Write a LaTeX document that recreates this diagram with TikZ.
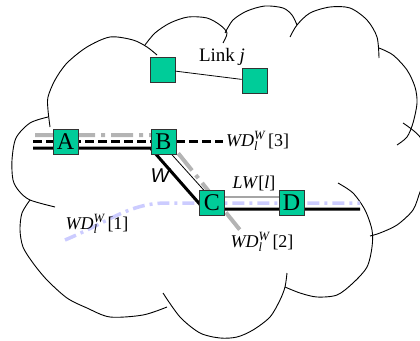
\documentclass[tikz,border=0pt]{standalone}
\usepackage{fontspec}
\setmainfont{Liberation Serif}
\setsansfont{Liberation Sans}
\usepackage{xcolor}
\usetikzlibrary{calc}

\definecolor{boxgreen}{RGB}{0,204,153}
\definecolor{wdgray}{RGB}{180,180,180}
\definecolor{wdblue}{RGB}{204,204,255}

\newcommand{\wdl}[1]{$\mathit{WD}_{\mathit{l}}^{\mathit{W}}$\,[#1]}

\begin{document}
\begin{tikzpicture}[x=1pt, y=-1pt,
        sq/.style={rectangle, draw=black!80, line width=0.8pt, fill=boxgreen, minimum size=25pt, inner sep=0pt, font=\fontsize{24}{24}\selectfont},
        lab/.style={inner sep=0pt, font=\fontsize{18}{18}\selectfont},
        cloudline/.style={line width=0.9pt}]
    \useasboundingbox (0,0) rectangle (420,340);
    \clip (0,0) rectangle (420,340);

    % cloud
    \draw[cloudline] plot[smooth] coordinates {(55,207) (30,200) (19,191) (13,180) (12,160) (16,138) (30,123) (48,117)};
    \draw[cloudline] plot[smooth] coordinates {(50,127) (48,110) (48,97) (55,80) (67,63) (87,47) (110,37) (133,40) (147,47) (157,55)};
    \draw[cloudline] plot[smooth] coordinates {(145,45) (155,33) (170,23) (188,17) (207,18) (220,25) (227,33) (223,43)};
    \draw[cloudline] plot[smooth] coordinates {(225,33) (233,20) (247,11) (265,6) (283,8) (292,15) (297,25)};
    \draw[cloudline] plot[smooth] coordinates {(290,37) (297,25) (310,13) (330,7) (350,8) (367,20) (377,37) (379,58)};
    \draw[cloudline] plot[smooth] coordinates {(379,48) (393,55) (407,70) (415,87) (417,103) (413,123) (407,137) (397,145)};
    \draw[cloudline] plot[smooth] coordinates {(403,123) (420,137) (428,160) (426,178) (420,192) (413,210) (397,225) (380,233) (370,236)};
    \draw[cloudline] plot[smooth] coordinates {(338,183) (353,193) (365,210) (372,230) (372,247) (367,267) (353,283) (337,295) (317,297) (300,293) (285,287)};
    \draw[cloudline] plot[smooth] coordinates {(287,273) (285,287) (280,300) (270,317) (253,330) (237,337) (220,338) (200,333) (180,317) (163,293)};
    \draw[cloudline] plot[smooth] coordinates {(167,307) (143,315) (110,317) (87,308) (67,298) (47,280) (33,263) (23,247) (20,230) (22,213) (30,200)};

    % routers
    \node[sq] (t1) at (162.5,69.5) {};
    \node[sq] (t2) at (254.5,81) {};
    \node[sq] (A) at (65.5,142) {};
    \node[sq] (B) at (163.5,142) {};
    \node[sq] (C) at (212,203) {};
    \node[sq] (D) at (291.5,203) {};

    \coordinate (wd3s) at (33,141);
    \coordinate (wd3e) at (223,141);
    \coordinate (wd2s) at (35,135);
    \coordinate (wd2e) at (240,230);
    \coordinate (wd1s) at (65,240);
    \coordinate (wd1e) at (360,203);
    \coordinate (ws) at (33,148);
    \coordinate (we) at (360,209);

    % paths
    \draw[line width=0.8pt] (t1) to (t2);
    \draw[wdblue, line width=3.5pt, dash pattern=on 12pt off 5pt on 3pt off 5pt]
        (wd1s) .. controls (110,221) and (130,203) .. ($(C)+(-45,0)$) -- (wd1e);
    \draw[wdgray, line width=4pt, dash pattern=on 22pt off 6pt on 4pt off 6pt]
        (wd2s) -- ($(B)+(0,-7)$) -- (wd2e);
    \draw[line width=3pt] (ws) -- ($(B)+(-13,6)$) -- ($(C)+(-8,6)$) -- (we);
    \draw[line width=0.8pt] ($(B)+(-3,0)$) -- ($(C)+(-2,-6)$) -- ($(D)+(0,-6)$);
    \draw[line width=3pt, dash pattern=on 9pt off 4pt] (wd3s) -- (wd3e);

    % redraw routers on top
    \node[sq] at (A) {A};
    \node[sq] at (B) {B};
    \node[sq] at (C) {C};
    \node[sq] at (D) {D};

    % labels
    \node[lab, font=\fontsize{19}{19}\selectfont] (lj) at (222,57) {Link \textit{j}};
    \node[lab, anchor=west] (l3) at (226,141) {\wdl{3}};
    \node[lab] (l2) at (262,242) {\wdl{2}};
    \node[lab] (l1) at (97,224) {\wdl{1}};
    \node[lab] (lw) at (254,183) {\textit{LW}[\textit{l}]};
    \node[inner sep=0pt, font=\sffamily\itshape\fontsize{20}{20}\selectfont] (w) at (160,176) {W};
\end{tikzpicture}
\end{document}
